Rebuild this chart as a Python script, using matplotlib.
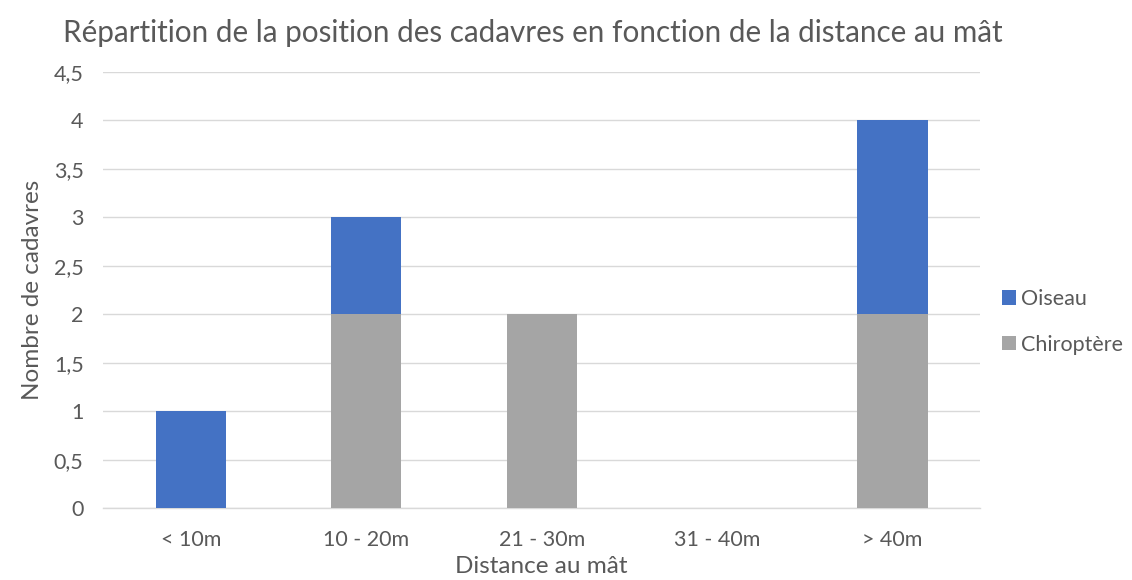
import matplotlib
matplotlib.use("Agg")
import matplotlib.pyplot as plt
from matplotlib.ticker import FuncFormatter, MultipleLocator

categories = ["< 10m", "10 - 20m", "21 - 30m", "31 - 40m", "> 40m"]
chiroptere = [0, 2, 2, 0, 2]
oiseau = [1, 1, 0, 0, 2]

plt.rcParams['font.family'] = ['Lato', 'DejaVu Sans']
txt = "#595959"

fig = plt.figure(figsize=(11.32, 5.80), dpi=100)
ax = fig.add_axes([0.091, 0.124, 0.775, 0.752])

x = range(len(categories))
ax.bar(x, chiroptere, width=0.4, color="#A5A5A5", label="Chiroptère", zorder=3)
ax.bar(x, oiseau, width=0.4, bottom=chiroptere, color="#4472C4", label="Oiseau", zorder=3)

ax.set_xlim(-0.5, len(categories) - 0.5)
ax.set_ylim(0, 4.5)
ax.yaxis.set_major_locator(MultipleLocator(0.5))
ax.yaxis.set_major_formatter(FuncFormatter(lambda v, p: ("%g" % v).replace(".", ",")))
ax.set_xticks(list(x))
ax.set_xticklabels(categories)
ax.grid(axis="y", color="#D9D9D9", linewidth=1, zorder=0)
for s in ["top", "right", "left"]:
    ax.spines[s].set_visible(False)
ax.spines["bottom"].set_color("#D9D9D9")
ax.spines["bottom"].set_linewidth(1)
ax.tick_params(axis="both", length=0, labelsize=15.5, colors=txt)
ax.tick_params(axis="x", pad=16)
ax.tick_params(axis="y", pad=14)

ax.set_xlabel("Distance au mât", fontsize=17.5, color=txt, labelpad=4)
ax.set_ylabel("Nombre de cadavres", fontsize=17.5, color=txt, labelpad=8)
fig.text(0.471, 0.943, "Répartition de la position des cadavres en fonction de la distance au mât",
         fontsize=21.3, color=txt, ha="center", va="center")

h, l = ax.get_legend_handles_labels()
leg = fig.legend(h[::-1], l[::-1], loc="center left", bbox_to_anchor=(0.868, 0.445),
                 frameon=False, fontsize=15.5, handlelength=0.65, handleheight=0.65,
                 handletextpad=0.25, labelspacing=1.2, labelcolor=txt)

fig.savefig("out.png", dpi=100)
